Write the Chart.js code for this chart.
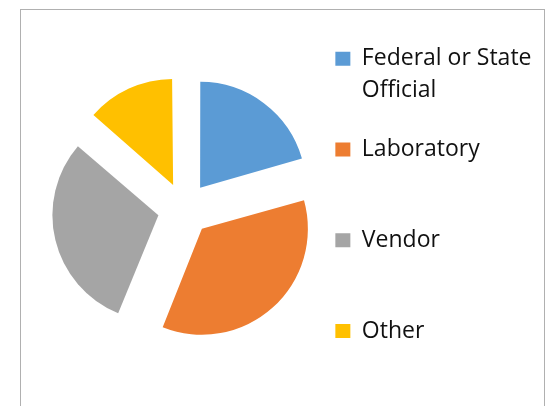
<!DOCTYPE html>
<html>
<head>
<meta charset="utf-8">
<script src="https://cdn.jsdelivr.net/npm/chart.js@4/dist/chart.umd.min.js"></script>
<style>
  html, body { margin: 0; padding: 0; background: #ffffff; }
  #wrap { position: relative; width: 546px; height: 406px; overflow: hidden; }
  #frame { position: absolute; left: 20px; top: 9px; width: 525px; height: 420px;
           border: 1px solid #b0b0b0; box-sizing: border-box; }
  #pieChart { position: absolute; left: 0; top: 0; }
</style>
</head>
<body>
<div id="wrap">
  <div id="frame"></div>
  <canvas id="pieChart" width="546" height="406"></canvas>
</div>
<script>
var categories = [['Federal or State', 'Official'], 'Laboratory', 'Vendor', 'Other'];
var counts = [15, 26, 22, 10];
var sliceColors = ['#5B9BD5', '#ED7D31', '#A5A5A5', '#FFC000'];

var pieRadius = 106;
var explode = 106; // chart.js moves a slice by offset / 4

// chart.js also grows small slices by the offset, put the radius back
var keepRadius = {
    id: 'keepRadius',
    beforeDatasetDraw: function(chart, args) {
        args.meta.data.forEach(function(arc) {
            var fix = 1 - Math.sin(Math.min(Math.PI, arc.circumference));
            arc.outerRadius = pieRadius - explode / 4 * fix;
        });
    }
};

var defaultLabels = Chart.DoughnutController.overrides.plugins.legend.labels.generateLabels;

var ctx = document.getElementById('pieChart').getContext('2d');
var pieChart = new Chart(ctx, {
    type: 'pie',
    data: {
        labels: categories,
        datasets: [{
            data: counts,
            backgroundColor: sliceColors,
            borderWidth: 0,
            offset: explode
        }]
    },
    options: {
        responsive: false,
        animation: false,
        events: [],
        radius: pieRadius,
        layout: {
            padding: { left: 60.8, right: 4.5, top: 19.4, bottom: 7.4 }
        },
        plugins: {
            tooltip: { enabled: false },
            legend: {
                position: 'right',
                align: 'start',
                labels: {
                    boxWidth: 15,
                    boxHeight: 14,
                    padding: 27.8,
                    color: '#111111',
                    font: { family: 'Open Sans', size: 23, lineHeight: '31.5px' },
                    generateLabels: function(chart) {
                        var items = defaultLabels(chart);
                        // keep every entry two lines tall, like the spreadsheet legend
                        items.forEach(function(item, i) {
                            if (typeof item.text === 'string' && i < items.length - 1) {
                                item.text = [item.text, ''];
                            }
                        });
                        return items;
                    }
                }
            }
        }
    },
    plugins: [keepRadius]
});
</script>
</body>
</html>
